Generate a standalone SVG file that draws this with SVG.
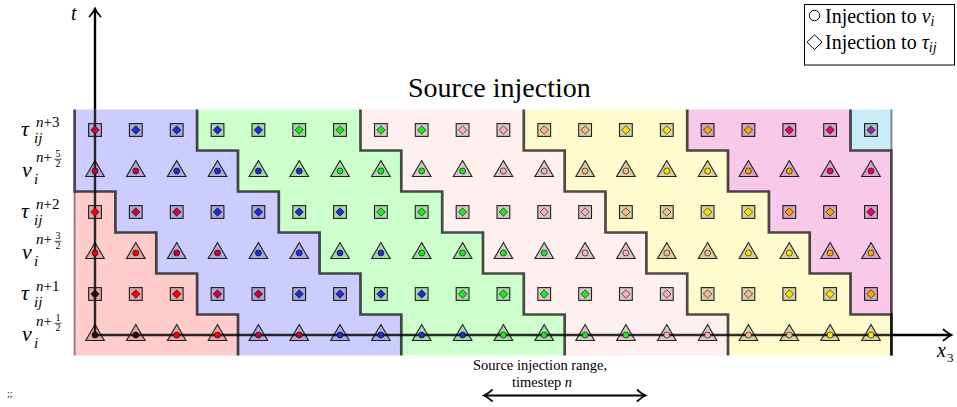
<svg xmlns="http://www.w3.org/2000/svg" width="957" height="407" viewBox="0 0 957 407">
<style>
.mk{fill:#000;fill-opacity:.16;stroke:#000;stroke-opacity:.85;stroke-width:1.1}
.d{stroke:#000;stroke-width:.7;stroke-opacity:.85}
.K{fill:#3c0000}.R{fill:#ff0000}.C{fill:#d0003a}.B{fill:#1a2fd8}.G{fill:#22e822}.P{fill:#ffb0b0}.E{fill:#f9b88c}.Y{fill:#ffe600}.O{fill:#ffa500}.M{fill:#e8007a}.U{fill:#9a2890}
.bd{fill:none;stroke:#000;stroke-opacity:.7;stroke-width:2.7}
.ax{fill:none;stroke:#000;stroke-width:2.4}
.ser{font-family:"Liberation Serif","Times New Roman",serif;fill:#000}
.it{font-style:italic}
.lb{font-size:22px}
.sp{font-size:15px}
.fr{font-size:10px}
</style>
<defs>
<path id="tri" class="mk" d="M0,-10.5 L9.3,5.5 L-9.3,5.5 Z"/>
<rect id="sq" class="mk" x="-6.4" y="-6.4" width="12.8" height="12.8"/>
<path id="dm" d="M0,-4.2 L4.2,0 L0,4.2 L-4.2,0 Z"/>
<circle id="dt" r="3"/>
<marker id="ah" viewBox="-10 -7 12 14" refX="0" refY="0" markerWidth="12" markerHeight="14" markerUnits="userSpaceOnUse" orient="auto-start-reverse">
<path d="M-8,-5.5 Q-3,-1.2 0,0 Q-3,1.2 -8,5.5" fill="none" stroke="#000" stroke-width="1.8" stroke-linecap="round"/>
</marker>
</defs>

<g id="regions">
<path id="reg-red" fill="#ffcccc" d="M74.6,191.5 H115.4 V232.5 H156.3 V273.5 H197.1 V314.5 H238 V355.5 H74.6 Z"/>
<path id="reg-blue" fill="#ccccff" d="M197.1,109.5 V150.5 H238 V191.5 H278.8 V232.5 H319.6 V273.5 H360.5 V314.5 H401.3 V355.5 H238 V314.5 H197.1 V273.5 H156.3 V232.5 H115.4 V191.5 H74.6 V109.5 Z"/>
<path id="reg-green" fill="#ccffcc" d="M360.5,109.5 V150.5 H401.3 V191.5 H442.2 V232.5 H483 V273.5 H523.8 V314.5 H564.7 V355.5 H401.3 V314.5 H360.5 V273.5 H319.6 V232.5 H278.8 V191.5 H238 V150.5 H197.1 V109.5 Z"/>
<path id="reg-pink" fill="#fff0f0" d="M523.8,109.5 V150.5 H564.7 V191.5 H605.5 V232.5 H646.4 V273.5 H687.2 V314.5 H728 V355.5 H564.7 V314.5 H523.8 V273.5 H483 V232.5 H442.2 V191.5 H401.3 V150.5 H360.5 V109.5 Z"/>
<path id="reg-yellow" fill="#fefbcc" d="M687.2,109.5 V150.5 H728 V191.5 H768.9 V232.5 H809.7 V273.5 H850.5 V314.5 H891.4 V355.5 H728 V314.5 H687.2 V273.5 H646.4 V232.5 H605.5 V191.5 H564.7 V150.5 H523.8 V109.5 Z"/>
<path id="reg-magenta" fill="#f8c9e8" d="M850.5,109.5 V150.5 H891.4 V314.5 H850.5 V273.5 H809.7 V232.5 H768.9 V191.5 H728 V150.5 H687.2 V109.5 Z"/>
<path id="reg-cyan" fill="#c8ecf8" d="M850.5,109.5 H891.4 V150.5 H850.5 Z"/>
<path fill="none" stroke="#9a8080" stroke-width="2" d="M74.6,191.5 V355.5"/>
<path fill="none" stroke="#7a8c94" stroke-width="2" d="M891.4,109.5 V150.5"/>
<path class="bd" d="M74.6,109.5 V191.5 H115.4 V232.5 H156.3 V273.5 H197.1 V314.5 H238 V355.5"/>
<path class="bd" d="M197.1,109.5 V150.5 H238 V191.5 H278.8 V232.5 H319.6 V273.5 H360.5 V314.5 H401.3 V355.5"/>
<path class="bd" d="M360.5,109.5 V150.5 H401.3 V191.5 H442.2 V232.5 H483 V273.5 H523.8 V314.5 H564.7 V355.5"/>
<path class="bd" d="M523.8,109.5 V150.5 H564.7 V191.5 H605.5 V232.5 H646.4 V273.5 H687.2 V314.5 H728 V355.5"/>
<path class="bd" d="M687.2,109.5 V150.5 H728 V191.5 H768.9 V232.5 H809.7 V273.5 H850.5 V314.5 H891.4 V355.5"/>
<path class="bd" d="M850.5,109.5 V150.5 H891.4 V355.5"/>
</g>

<g id="connectors">
<path class="ax" stroke-opacity="0.82" d="M95,109.5 V335 H891.4"/>
<path class="ax" d="M95,109.5 V8.5" marker-end="url(#ah)"/>
<path class="ax" d="M891.4,335 H951.5" marker-end="url(#ah)"/>
<path fill="none" stroke="#000" stroke-width="2.2" d="M484,395.5 H645.5" marker-start="url(#ah)" marker-end="url(#ah)"/>
</g>

<g id="row-tau3">
<g id="tau3-c0" transform="translate(95 130)"><use href="#sq"/><use href="#dm" class="d C"/></g>
<g id="tau3-c1" transform="translate(135.8 130)"><use href="#sq"/><use href="#dm" class="d B"/></g>
<g id="tau3-c2" transform="translate(176.7 130)"><use href="#sq"/><use href="#dm" class="d B"/></g>
<g id="tau3-c3" transform="translate(217.5 130)"><use href="#sq"/><use href="#dm" class="d B"/></g>
<g id="tau3-c4" transform="translate(258.4 130)"><use href="#sq"/><use href="#dm" class="d B"/></g>
<g id="tau3-c5" transform="translate(299.2 130)"><use href="#sq"/><use href="#dm" class="d G"/></g>
<g id="tau3-c6" transform="translate(340 130)"><use href="#sq"/><use href="#dm" class="d G"/></g>
<g id="tau3-c7" transform="translate(380.9 130)"><use href="#sq"/><use href="#dm" class="d G"/></g>
<g id="tau3-c8" transform="translate(421.7 130)"><use href="#sq"/><use href="#dm" class="d G"/></g>
<g id="tau3-c9" transform="translate(462.6 130)"><use href="#sq"/><use href="#dm" class="d P"/></g>
<g id="tau3-c10" transform="translate(503.4 130)"><use href="#sq"/><use href="#dm" class="d P"/></g>
<g id="tau3-c11" transform="translate(544.2 130)"><use href="#sq"/><use href="#dm" class="d E"/></g>
<g id="tau3-c12" transform="translate(585.1 130)"><use href="#sq"/><use href="#dm" class="d E"/></g>
<g id="tau3-c13" transform="translate(625.9 130)"><use href="#sq"/><use href="#dm" class="d Y"/></g>
<g id="tau3-c14" transform="translate(666.8 130)"><use href="#sq"/><use href="#dm" class="d Y"/></g>
<g id="tau3-c15" transform="translate(707.6 130)"><use href="#sq"/><use href="#dm" class="d O"/></g>
<g id="tau3-c16" transform="translate(748.4 130)"><use href="#sq"/><use href="#dm" class="d O"/></g>
<g id="tau3-c17" transform="translate(789.3 130)"><use href="#sq"/><use href="#dm" class="d M"/></g>
<g id="tau3-c18" transform="translate(830.1 130)"><use href="#sq"/><use href="#dm" class="d M"/></g>
<g id="tau3-c19" transform="translate(871 130)"><use href="#sq"/><use href="#dm" class="d U"/></g>
</g>

<g id="row-v52">
<g id="v52-c0" transform="translate(95 171)"><use href="#tri"/><use href="#dt" class="d C"/></g>
<g id="v52-c1" transform="translate(135.8 171)"><use href="#tri"/><use href="#dt" class="d C"/></g>
<g id="v52-c2" transform="translate(176.7 171)"><use href="#tri"/><use href="#dt" class="d B"/></g>
<g id="v52-c3" transform="translate(217.5 171)"><use href="#tri"/><use href="#dt" class="d B"/></g>
<g id="v52-c4" transform="translate(258.4 171)"><use href="#tri"/><use href="#dt" class="d B"/></g>
<g id="v52-c5" transform="translate(299.2 171)"><use href="#tri"/><use href="#dt" class="d B"/></g>
<g id="v52-c6" transform="translate(340 171)"><use href="#tri"/><use href="#dt" class="d G"/></g>
<g id="v52-c7" transform="translate(380.9 171)"><use href="#tri"/><use href="#dt" class="d G"/></g>
<g id="v52-c8" transform="translate(421.7 171)"><use href="#tri"/><use href="#dt" class="d G"/></g>
<g id="v52-c9" transform="translate(462.6 171)"><use href="#tri"/><use href="#dt" class="d G"/></g>
<g id="v52-c10" transform="translate(503.4 171)"><use href="#tri"/><use href="#dt" class="d P"/></g>
<g id="v52-c11" transform="translate(544.2 171)"><use href="#tri"/><use href="#dt" class="d P"/></g>
<g id="v52-c12" transform="translate(585.1 171)"><use href="#tri"/><use href="#dt" class="d E"/></g>
<g id="v52-c13" transform="translate(625.9 171)"><use href="#tri"/><use href="#dt" class="d E"/></g>
<g id="v52-c14" transform="translate(666.8 171)"><use href="#tri"/><use href="#dt" class="d Y"/></g>
<g id="v52-c15" transform="translate(707.6 171)"><use href="#tri"/><use href="#dt" class="d Y"/></g>
<g id="v52-c16" transform="translate(748.4 171)"><use href="#tri"/><use href="#dt" class="d O"/></g>
<g id="v52-c17" transform="translate(789.3 171)"><use href="#tri"/><use href="#dt" class="d O"/></g>
<g id="v52-c18" transform="translate(830.1 171)"><use href="#tri"/><use href="#dt" class="d M"/></g>
<g id="v52-c19" transform="translate(871 171)"><use href="#tri"/><use href="#dt" class="d M"/></g>
</g>

<g id="row-tau2">
<g id="tau2-c0" transform="translate(95 212)"><use href="#sq"/><use href="#dm" class="d R"/></g>
<g id="tau2-c1" transform="translate(135.8 212)"><use href="#sq"/><use href="#dm" class="d C"/></g>
<g id="tau2-c2" transform="translate(176.7 212)"><use href="#sq"/><use href="#dm" class="d C"/></g>
<g id="tau2-c3" transform="translate(217.5 212)"><use href="#sq"/><use href="#dm" class="d B"/></g>
<g id="tau2-c4" transform="translate(258.4 212)"><use href="#sq"/><use href="#dm" class="d B"/></g>
<g id="tau2-c5" transform="translate(299.2 212)"><use href="#sq"/><use href="#dm" class="d B"/></g>
<g id="tau2-c6" transform="translate(340 212)"><use href="#sq"/><use href="#dm" class="d B"/></g>
<g id="tau2-c7" transform="translate(380.9 212)"><use href="#sq"/><use href="#dm" class="d G"/></g>
<g id="tau2-c8" transform="translate(421.7 212)"><use href="#sq"/><use href="#dm" class="d G"/></g>
<g id="tau2-c9" transform="translate(462.6 212)"><use href="#sq"/><use href="#dm" class="d G"/></g>
<g id="tau2-c10" transform="translate(503.4 212)"><use href="#sq"/><use href="#dm" class="d G"/></g>
<g id="tau2-c11" transform="translate(544.2 212)"><use href="#sq"/><use href="#dm" class="d P"/></g>
<g id="tau2-c12" transform="translate(585.1 212)"><use href="#sq"/><use href="#dm" class="d P"/></g>
<g id="tau2-c13" transform="translate(625.9 212)"><use href="#sq"/><use href="#dm" class="d E"/></g>
<g id="tau2-c14" transform="translate(666.8 212)"><use href="#sq"/><use href="#dm" class="d E"/></g>
<g id="tau2-c15" transform="translate(707.6 212)"><use href="#sq"/><use href="#dm" class="d Y"/></g>
<g id="tau2-c16" transform="translate(748.4 212)"><use href="#sq"/><use href="#dm" class="d Y"/></g>
<g id="tau2-c17" transform="translate(789.3 212)"><use href="#sq"/><use href="#dm" class="d O"/></g>
<g id="tau2-c18" transform="translate(830.1 212)"><use href="#sq"/><use href="#dm" class="d O"/></g>
<g id="tau2-c19" transform="translate(871 212)"><use href="#sq"/><use href="#dm" class="d M"/></g>
</g>

<g id="row-v32">
<g id="v32-c0" transform="translate(95 253)"><use href="#tri"/><use href="#dt" class="d R"/></g>
<g id="v32-c1" transform="translate(135.8 253)"><use href="#tri"/><use href="#dt" class="d R"/></g>
<g id="v32-c2" transform="translate(176.7 253)"><use href="#tri"/><use href="#dt" class="d C"/></g>
<g id="v32-c3" transform="translate(217.5 253)"><use href="#tri"/><use href="#dt" class="d C"/></g>
<g id="v32-c4" transform="translate(258.4 253)"><use href="#tri"/><use href="#dt" class="d B"/></g>
<g id="v32-c5" transform="translate(299.2 253)"><use href="#tri"/><use href="#dt" class="d B"/></g>
<g id="v32-c6" transform="translate(340 253)"><use href="#tri"/><use href="#dt" class="d B"/></g>
<g id="v32-c7" transform="translate(380.9 253)"><use href="#tri"/><use href="#dt" class="d B"/></g>
<g id="v32-c8" transform="translate(421.7 253)"><use href="#tri"/><use href="#dt" class="d G"/></g>
<g id="v32-c9" transform="translate(462.6 253)"><use href="#tri"/><use href="#dt" class="d G"/></g>
<g id="v32-c10" transform="translate(503.4 253)"><use href="#tri"/><use href="#dt" class="d G"/></g>
<g id="v32-c11" transform="translate(544.2 253)"><use href="#tri"/><use href="#dt" class="d G"/></g>
<g id="v32-c12" transform="translate(585.1 253)"><use href="#tri"/><use href="#dt" class="d P"/></g>
<g id="v32-c13" transform="translate(625.9 253)"><use href="#tri"/><use href="#dt" class="d P"/></g>
<g id="v32-c14" transform="translate(666.8 253)"><use href="#tri"/><use href="#dt" class="d E"/></g>
<g id="v32-c15" transform="translate(707.6 253)"><use href="#tri"/><use href="#dt" class="d E"/></g>
<g id="v32-c16" transform="translate(748.4 253)"><use href="#tri"/><use href="#dt" class="d Y"/></g>
<g id="v32-c17" transform="translate(789.3 253)"><use href="#tri"/><use href="#dt" class="d Y"/></g>
<g id="v32-c18" transform="translate(830.1 253)"><use href="#tri"/><use href="#dt" class="d O"/></g>
<g id="v32-c19" transform="translate(871 253)"><use href="#tri"/><use href="#dt" class="d O"/></g>
</g>

<g id="row-tau1">
<g id="tau1-c0" transform="translate(95 294)"><use href="#sq"/><use href="#dm" class="d K"/></g>
<g id="tau1-c1" transform="translate(135.8 294)"><use href="#sq"/><use href="#dm" class="d R"/></g>
<g id="tau1-c2" transform="translate(176.7 294)"><use href="#sq"/><use href="#dm" class="d R"/></g>
<g id="tau1-c3" transform="translate(217.5 294)"><use href="#sq"/><use href="#dm" class="d C"/></g>
<g id="tau1-c4" transform="translate(258.4 294)"><use href="#sq"/><use href="#dm" class="d C"/></g>
<g id="tau1-c5" transform="translate(299.2 294)"><use href="#sq"/><use href="#dm" class="d B"/></g>
<g id="tau1-c6" transform="translate(340 294)"><use href="#sq"/><use href="#dm" class="d B"/></g>
<g id="tau1-c7" transform="translate(380.9 294)"><use href="#sq"/><use href="#dm" class="d B"/></g>
<g id="tau1-c8" transform="translate(421.7 294)"><use href="#sq"/><use href="#dm" class="d B"/></g>
<g id="tau1-c9" transform="translate(462.6 294)"><use href="#sq"/><use href="#dm" class="d G"/></g>
<g id="tau1-c10" transform="translate(503.4 294)"><use href="#sq"/><use href="#dm" class="d G"/></g>
<g id="tau1-c11" transform="translate(544.2 294)"><use href="#sq"/><use href="#dm" class="d G"/></g>
<g id="tau1-c12" transform="translate(585.1 294)"><use href="#sq"/><use href="#dm" class="d G"/></g>
<g id="tau1-c13" transform="translate(625.9 294)"><use href="#sq"/><use href="#dm" class="d P"/></g>
<g id="tau1-c14" transform="translate(666.8 294)"><use href="#sq"/><use href="#dm" class="d P"/></g>
<g id="tau1-c15" transform="translate(707.6 294)"><use href="#sq"/><use href="#dm" class="d E"/></g>
<g id="tau1-c16" transform="translate(748.4 294)"><use href="#sq"/><use href="#dm" class="d E"/></g>
<g id="tau1-c17" transform="translate(789.3 294)"><use href="#sq"/><use href="#dm" class="d Y"/></g>
<g id="tau1-c18" transform="translate(830.1 294)"><use href="#sq"/><use href="#dm" class="d Y"/></g>
<g id="tau1-c19" transform="translate(871 294)"><use href="#sq"/><use href="#dm" class="d O"/></g>
</g>

<g id="row-v12">
<g id="v12-c0" transform="translate(95 335)"><use href="#tri"/><use href="#dt" class="d K"/></g>
<g id="v12-c1" transform="translate(135.8 335)"><use href="#tri"/><use href="#dt" class="d K"/></g>
<g id="v12-c2" transform="translate(176.7 335)"><use href="#tri"/><use href="#dt" class="d R"/></g>
<g id="v12-c3" transform="translate(217.5 335)"><use href="#tri"/><use href="#dt" class="d R"/></g>
<g id="v12-c4" transform="translate(258.4 335)"><use href="#tri"/><use href="#dt" class="d C"/></g>
<g id="v12-c5" transform="translate(299.2 335)"><use href="#tri"/><use href="#dt" class="d C"/></g>
<g id="v12-c6" transform="translate(340 335)"><use href="#tri"/><use href="#dt" class="d B"/></g>
<g id="v12-c7" transform="translate(380.9 335)"><use href="#tri"/><use href="#dt" class="d B"/></g>
<g id="v12-c8" transform="translate(421.7 335)"><use href="#tri"/><use href="#dt" class="d B"/></g>
<g id="v12-c9" transform="translate(462.6 335)"><use href="#tri"/><use href="#dt" class="d B"/></g>
<g id="v12-c10" transform="translate(503.4 335)"><use href="#tri"/><use href="#dt" class="d G"/></g>
<g id="v12-c11" transform="translate(544.2 335)"><use href="#tri"/><use href="#dt" class="d G"/></g>
<g id="v12-c12" transform="translate(585.1 335)"><use href="#tri"/><use href="#dt" class="d G"/></g>
<g id="v12-c13" transform="translate(625.9 335)"><use href="#tri"/><use href="#dt" class="d G"/></g>
<g id="v12-c14" transform="translate(666.8 335)"><use href="#tri"/><use href="#dt" class="d P"/></g>
<g id="v12-c15" transform="translate(707.6 335)"><use href="#tri"/><use href="#dt" class="d P"/></g>
<g id="v12-c16" transform="translate(748.4 335)"><use href="#tri"/><use href="#dt" class="d E"/></g>
<g id="v12-c17" transform="translate(789.3 335)"><use href="#tri"/><use href="#dt" class="d E"/></g>
<g id="v12-c18" transform="translate(830.1 335)"><use href="#tri"/><use href="#dt" class="d Y"/></g>
<g id="v12-c19" transform="translate(871 335)"><use href="#tri"/><use href="#dt" class="d Y"/></g>
</g>

<g id="row-labels" class="ser" font-family="Liberation Serif, serif">
<g id="lbl-tau3">
<text class="lb it" x="21" y="136">τ</text>
<text class="sp" x="36" y="127"><tspan class="it">n</tspan>+3</text>
<text class="sp it" x="34" y="143">ij</text>
</g>
<g id="lbl-v52">
<text class="lb it" x="22" y="177">v</text>
<text class="sp it" x="34" y="184">i</text>
<text class="sp" x="36" y="162"><tspan class="it">n</tspan>+</text>
<text class="fr" x="58" y="157" text-anchor="middle">5</text>
<line x1="54.5" y1="159.3" x2="61.5" y2="159.3" stroke="#000" stroke-width="0.7"/>
<text class="fr" x="58" y="167" text-anchor="middle">2</text>
</g>
<g id="lbl-tau2">
<text class="lb it" x="21" y="218">τ</text>
<text class="sp" x="36" y="209"><tspan class="it">n</tspan>+2</text>
<text class="sp it" x="34" y="225">ij</text>
</g>
<g id="lbl-v32">
<text class="lb it" x="22" y="259">v</text>
<text class="sp it" x="34" y="266">i</text>
<text class="sp" x="36" y="244"><tspan class="it">n</tspan>+</text>
<text class="fr" x="58" y="239" text-anchor="middle">3</text>
<line x1="54.5" y1="241.3" x2="61.5" y2="241.3" stroke="#000" stroke-width="0.7"/>
<text class="fr" x="58" y="249" text-anchor="middle">2</text>
</g>
<g id="lbl-tau1">
<text class="lb it" x="21" y="300">τ</text>
<text class="sp" x="36" y="291"><tspan class="it">n</tspan>+1</text>
<text class="sp it" x="34" y="307">ij</text>
</g>
<g id="lbl-v12">
<text class="lb it" x="22" y="341">v</text>
<text class="sp it" x="34" y="348">i</text>
<text class="sp" x="36" y="326"><tspan class="it">n</tspan>+</text>
<text class="fr" x="58" y="321" text-anchor="middle">1</text>
<line x1="54.5" y1="323.3" x2="61.5" y2="323.3" stroke="#000" stroke-width="0.7"/>
<text class="fr" x="58" y="331" text-anchor="middle">2</text>
</g>
</g>

<g id="axis-labels" class="ser" font-family="Liberation Serif, serif">
<text class="it" font-size="20" x="71" y="20">t</text>
<text class="it" font-size="20" x="937" y="357">x</text>
<text font-size="13" x="947" y="362">3</text>
</g>

<g id="title" class="ser" font-family="Liberation Serif, serif">
<text font-size="28" x="408" y="97">Source injection</text>
</g>

<g id="legend" class="ser" font-family="Liberation Serif, serif">
<rect x="804.5" y="4.5" width="150" height="60.5" fill="#fff" stroke="#000" stroke-width="1"/>
<circle cx="814.5" cy="15.5" r="5.2" fill="none" stroke="#000" stroke-width="1"/>
<text font-size="20" x="825" y="22.5">Injection to <tspan class="it">v</tspan><tspan class="it" font-size="14" dy="3">i</tspan></text>
<path d="M814.5,34.8 L822,42.2 L814.5,49.6 L807,42.2 Z" fill="none" stroke="#000" stroke-width="1"/>
<text font-size="20" x="825" y="48.5">Injection to <tspan class="it">τ</tspan><tspan class="it" font-size="14" dy="3">ij</tspan></text>
</g>

<g id="range-label" class="ser" font-family="Liberation Serif, serif">
<text font-size="14.5" x="473" y="370">Source injection range,</text>
<text font-size="14.5" x="512" y="387">timestep <tspan class="it">n</tspan></text>
</g>

<g id="footnote" class="ser" font-family="Liberation Serif, serif">
<text font-size="10" x="7" y="397">;;</text>
</g>
</svg>
